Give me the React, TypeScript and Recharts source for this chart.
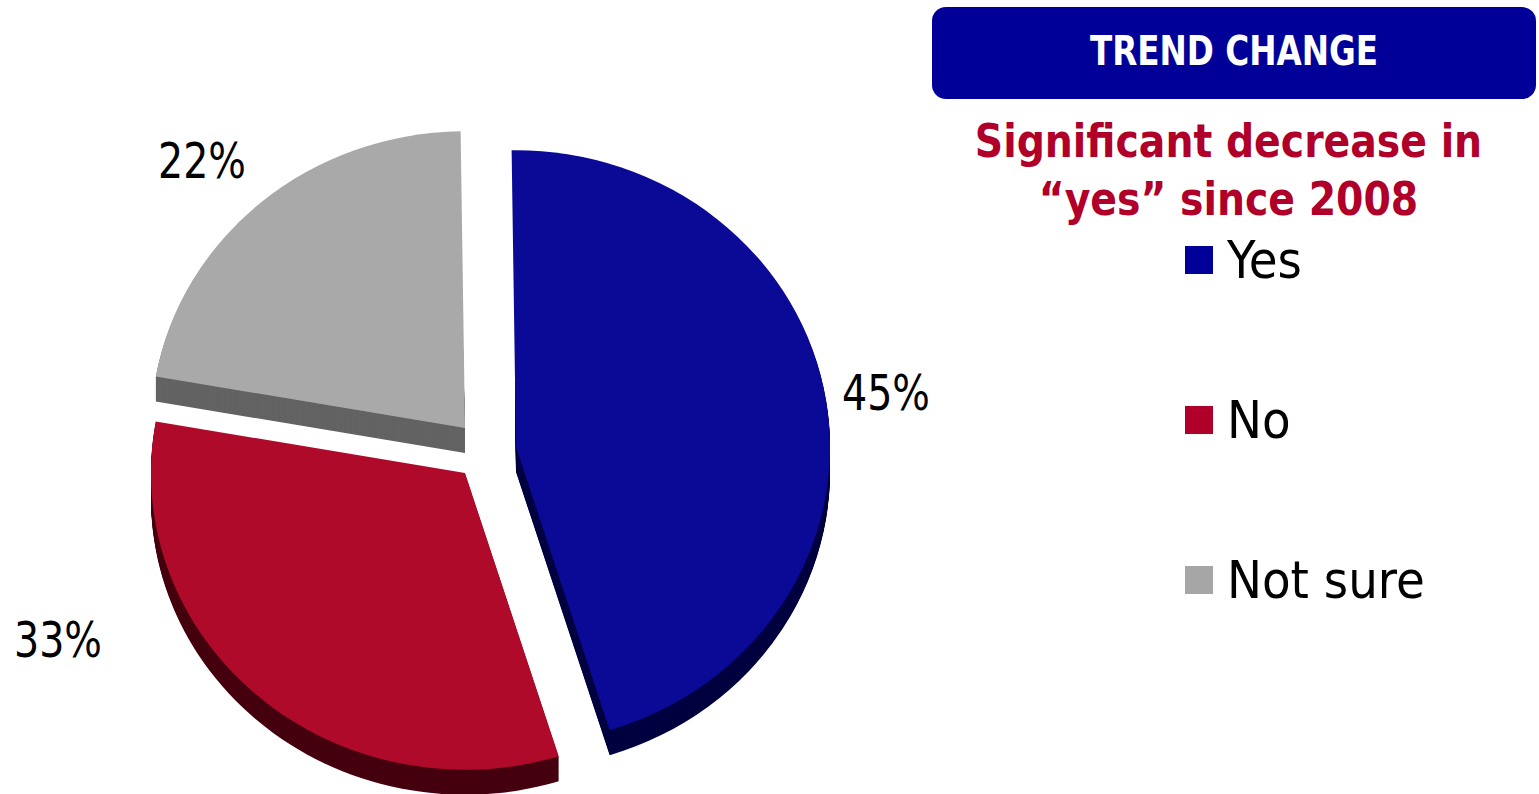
import { Pie, PieChart, Sector } from 'recharts';

const categories = ['Yes', 'No', 'Not sure'];
const shares = [45.4, 32.6, 22];
const faceColors = ['#0a0a96', '#b00a2a', '#a9a9a9'];
const sideColors = ['#000040', '#45000f', '#636363'];
const legendColors = ['#000099', '#b0002a', '#a6a6a6'];

const title = 'TREND CHANGE';
const noteLines = ['Significant decrease in', '“yes” since 2008'];

const data = categories.map((name, i) => ({ name, value: shares[i] }));

const FONT = '"DejaVu Sans Condensed", "DejaVu Sans", sans-serif';
const CX = 480;
const CY = 450;
const RADIUS = 314;
const SQUASH = 0.945; // the pie is tilted a little
const DEPTH = 25;
// exploded slice offsets and label spots, in slice order
const explode = [
  [36, -3],
  [-15, 23],
  [-15, -22],
];
const labelSpots = [
  [886, 393],
  [58, 640],
  [202, 161],
];
// pull the side layers in on edges that stay hidden, stops a dark fringe there
const sideTrim = [
  [0.5, 0],
  [0, 0],
  [0, 0.5],
];

function slice(props: any, dy: number, fill: string, key: number, trim = [0, 0]) {
  const { index, cx, cy, outerRadius, startAngle, endAngle } = props;
  const [ox, oy] = explode[index];
  return (
    <g key={key} transform={`translate(${cx + ox} ${cy + oy + dy}) scale(1 ${SQUASH})`}>
      <Sector
        cx={0}
        cy={0}
        innerRadius={0}
        outerRadius={outerRadius}
        startAngle={startAngle - trim[0]}
        endAngle={endAngle + trim[1]}
        fill={fill}
        stroke="none"
      />
    </g>
  );
}

function SideShape(props: any) {
  const layers = [];
  for (let d = DEPTH; d >= 1; d--) {
    layers.push(slice(props, d, sideColors[props.index], d, sideTrim[props.index]));
  }
  return <g>{layers}</g>;
}

function FaceShape(props: any) {
  return slice(props, 0, faceColors[props.index], 0);
}

function percentLabel(props: any) {
  const [x, y] = labelSpots[props.index];
  return (
    <text x={x} y={y} textAnchor="middle" dominantBaseline="central" fontFamily={FONT} fontSize={50} fill="#000" textLength={88} lengthAdjust="spacingAndGlyphs">
      {`${Math.round(props.value)}%`}
    </text>
  );
}

export default function App() {
  return (
    <div style={{ position: 'absolute', left: 0, top: 0, width: 1539, height: 794, overflow: 'hidden' }}>
      <PieChart width={1539} height={794} margin={{ top: 0, right: 0, bottom: 0, left: 0 }}>
        <Pie
          data={data}
          dataKey="value"
          cx={CX}
          cy={CY}
          outerRadius={RADIUS}
          startAngle={90.8}
          endAngle={-269.2}
          paddingAngle={0}
          stroke="none"
          shape={SideShape}
          isAnimationActive={false}
        />
        <Pie
          data={data}
          dataKey="value"
          cx={CX}
          cy={CY}
          outerRadius={RADIUS}
          startAngle={90.8}
          endAngle={-269.2}
          paddingAngle={0}
          stroke="none"
          shape={FaceShape}
          label={percentLabel}
          labelLine={false}
          isAnimationActive={false}
        />
      </PieChart>

      <div
        style={{
          position: 'absolute',
          left: 932,
          top: 7,
          width: 604,
          height: 92,
          borderRadius: 14,
          background: '#000099',
          color: '#fff',
          fontFamily: FONT,
          fontWeight: 700,
          fontSize: 40,
          lineHeight: '88px',
          textAlign: 'center',
        }}
      >
        <div style={{ transform: 'scaleX(0.906)' }}>{title}</div>
      </div>

      <div
        style={{
          position: 'absolute',
          left: 927,
          top: 112,
          width: 603,
          color: '#b0002a',
          fontFamily: FONT,
          fontWeight: 700,
          fontSize: 46,
          lineHeight: '58px',
          textAlign: 'center',
          whiteSpace: 'nowrap',
          transform: 'scaleX(0.951)',
        }}
      >
        {noteLines.map(line => (
          <div key={line}>{line}</div>
        ))}
      </div>

      {categories.map((name, i) => (
        <div
          key={name}
          style={{
            position: 'absolute',
            left: 1185,
            top: 230 + i * 160,
            height: 60,
            display: 'flex',
            alignItems: 'center',
            fontFamily: FONT,
            fontSize: 52,
            color: '#000',
            whiteSpace: 'nowrap',
          }}
        >
          <span style={{ width: 28, height: 28, background: legendColors[i], marginRight: 14 }} />
          {name}
        </div>
      ))}
    </div>
  );
}
